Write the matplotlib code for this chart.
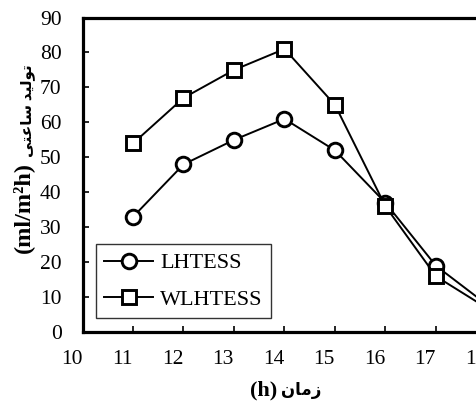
import matplotlib.pyplot as plt
import matplotlib.transforms as mtransforms

plt.rcParams['font.family'] = ['Liberation Serif', 'DejaVu Sans']

# hourly yield, ml/m2h
hours = [11, 12, 13, 14, 15, 16, 17, 18]
lhtess = [33, 48, 55, 61, 52, 37, 19, 8]
wlhtess = [54, 67, 75, 81, 65, 36, 16, 7]

xticks = [10, 11, 12, 13, 14, 15, 16, 17, 18]
yticks = [0, 10, 20, 30, 40, 50, 60, 70, 80, 90]

# Persian words pre-shaped with presentation forms (visual order)
x_fa = "\uFEE5\uFE8E\uFEE3\uFEAF"
x_unit = "(h)"
y_fa = "\uFEF0\uFE98\uFECB\uFE8E\uFEB3 \uFEAA\uFEF4\uFEDF\uFEEE\uFE97"
y_unit = "(ml/m\u00b2h)"

W, H = 476, 401
fig = plt.figure(figsize=(W / 100, H / 100), dpi=100)
x0, y0 = 82.5, 332.3
px_per_hour = 50.5
ax = fig.add_axes([x0 / W, (H - y0) / H, 8 * px_per_hour / W, (y0 - 17.5) / H])

ax.plot(hours, lhtess, color='black', lw=1.4, marker='o', ms=10.5, mew=2.1,
        mfc='white', mec='black', label='LHTESS', clip_on=False, zorder=3)
ax.plot(hours, wlhtess, color='black', lw=1.4, marker='s', ms=10.5, mew=2.1,
        mfc='white', mec='black', label='WLHTESS', clip_on=False, zorder=3)

ax.set_xlim(10, 18)
ax.set_ylim(0, 90)
ax.set_xticks(xticks)
ax.set_yticks(yticks)
ax.tick_params(direction='in', length=4.5, width=1.2, labelsize=15.5, colors='black')
ax.tick_params(axis='y', pad=15)
ax.tick_params(axis='x', pad=13)
for s in ax.spines.values():
    s.set_linewidth(2.3)

# x labels sit a little left of their ticks
shift = mtransforms.ScaledTranslation(-11 / 100, 0, fig.dpi_scale_trans)
for lab in ax.get_xticklabels():
    lab.set_transform(lab.get_transform() + shift)

leg = ax.legend(loc='lower left', bbox_to_anchor=(96 / W, (H - 318.3) / H),
                bbox_transform=fig.transFigure, borderaxespad=0, fontsize=16,
                fancybox=False, frameon=True, edgecolor='black',
                handlelength=2.2, handletextpad=0.3, borderpad=0.38,
                labelspacing=0.72)
leg.get_frame().set_linewidth(1.0)

# axis titles: latin unit + persian words
fig.text(277 / W, 6 / H, x_unit, ha='right', va='baseline', fontsize=16,
         fontweight='bold')
fig.text(281 / W, 6 / H, x_fa, ha='left', va='baseline', fontsize=12,
         fontweight='bold')
fig.text(29 / W, (H - 253) / H, y_unit, ha='left', va='baseline', fontsize=17.5,
         fontweight='bold', rotation=90, rotation_mode='anchor')
fig.text(31 / W, (H - 157) / H, y_fa, ha='left', va='baseline', fontsize=11,
         fontweight='bold', rotation=90, rotation_mode='anchor')

fig.savefig('out.png', dpi=100)
